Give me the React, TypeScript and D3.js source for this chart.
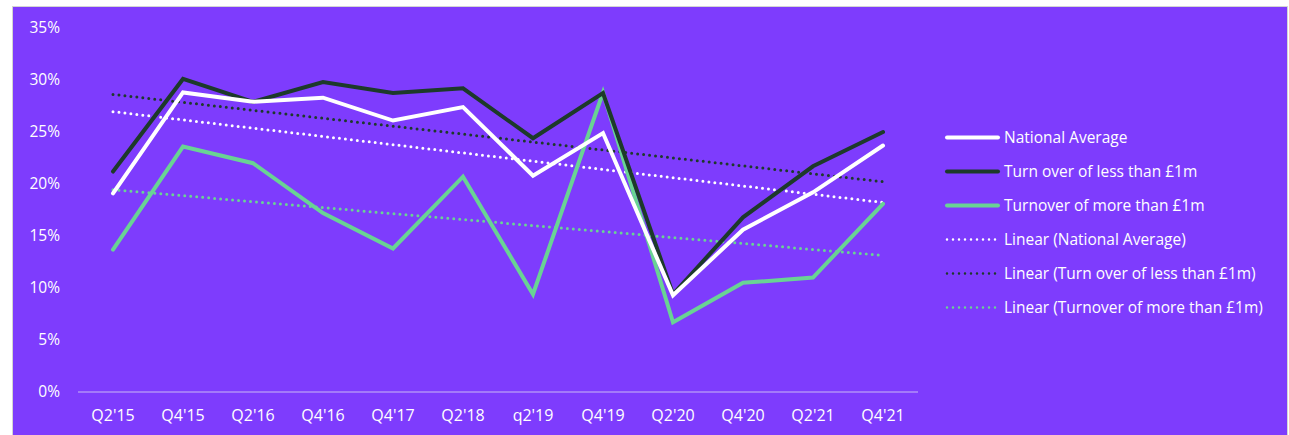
import React from "react";
import * as d3 from "d3";

const categories = ["Q2'15", "Q4'15", "Q2'16", "Q4'16", "Q4'17", "Q2'18", "q2'19", "Q4'19", "Q2'20", "Q4'20", "Q2'21", "Q4'21"];
const nationalAverage = [0.191, 0.288, 0.279, 0.283, 0.261, 0.274, 0.208, 0.249, 0.093, 0.156, 0.192, 0.237];
const lessThan1m = [0.212, 0.301, 0.279, 0.298, 0.2875, 0.292, 0.244, 0.2875, 0.094, 0.168, 0.217, 0.25];
const moreThan1m = [0.137, 0.236, 0.22, 0.172, 0.138, 0.207, 0.094, 0.288, 0.067, 0.105, 0.11, 0.181];
const yTicks = [0, 0.05, 0.1, 0.15, 0.2, 0.25, 0.3, 0.35];

const seriesNames = ["National Average", "Turn over of less than £1m", "Turnover of more than £1m"];
const seriesColors = ["#FFFFFF", "#1D3A2A", "#69D394"];

function linearFit(values: number[]): [number, number] {
  const n = values.length;
  const xs = d3.range(n);
  const mx = d3.mean(xs) as number;
  const my = d3.mean(values) as number;
  let num = 0, den = 0;
  xs.forEach((x, i) => { num += (x - mx) * (values[i] - my); den += (x - mx) * (x - mx); });
  const slope = num / den;
  return [my - slope * mx, slope];
}

export default function App() {
  const W = 1289, H = 435;
  const font = "'Open Sans', sans-serif";
  const x = d3.scaleBand<string>().domain(categories).range([78, 918]);
  const y = d3.scaleLinear().domain([0, 0.35]).range([392, 28]);
  const cx = (c: string) => (x(c) as number) + x.bandwidth() / 2;
  const line = d3.line<number>().x((_, i) => cx(categories[i])).y((d) => y(d));
  const allSeries = [nationalAverage, lessThan1m, moreThan1m];
  const trends = allSeries.map((s) => {
    const [a, b] = linearFit(s);
    return categories.map((_, i) => a + b * i);
  });
  const legendItems = [
    ...seriesNames.map((n, i) => ({ name: n, color: seriesColors[i], dotted: false })),
    ...seriesNames.map((n, i) => ({ name: `Linear (${n})`, color: seriesColors[i], dotted: true })),
  ];
  return (
    <svg width={W} height={H} style={{ position: "absolute", left: 0, top: 0 }} fontFamily={font}>
      <rect x={0} y={0} width={W} height={H} fill="#FFFFFF" />
      <rect x={12.5} y={6.5} width={1275} height={440} fill="#7E3CFD" stroke="#D4D4D4" strokeWidth={1} />
      {yTicks.map((t) => (
        <text key={t} x={60} y={y(t)} dy="0.35em" textAnchor="end" fill="#FFFFFF" fontSize={15.5}>
          {d3.format(".0%")(t)}
        </text>
      ))}
      <line x1={78} x2={918} y1={y(0)} y2={y(0)} stroke="#C9B8F5" strokeWidth={1} />
      {categories.map((c) => (
        <text key={c} x={cx(c)} y={415} dy="0.35em" textAnchor="middle" fill="#FFFFFF" fontSize={16}>
          {c}
        </text>
      ))}
      {trends.map((t, i) => (
        <path key={"t" + i} d={line(t) as string} fill="none" stroke={seriesColors[i]} strokeWidth={3}
          strokeDasharray="0 6" strokeLinecap="round" />
      ))}
      {[moreThan1m, lessThan1m, nationalAverage].map((s, k) => {
        const i = 2 - k;
        return (
          <path key={"s" + i} d={line(s) as string} fill="none" stroke={seriesColors[i]} strokeWidth={4}
            strokeLinejoin="miter" strokeLinecap="round" />
        );
      })}
      {legendItems.map((it, i) => {
        const ly = 137.5 + i * 34;
        return (
          <g key={it.name}>
            <line x1={947} x2={998} y1={ly} y2={ly} stroke={it.color} strokeWidth={it.dotted ? 2.5 : 4}
              strokeLinecap="round" strokeDasharray={it.dotted ? "0 6" : undefined} />
            <text x={1004} y={ly} dy="0.35em" fill="#FFFFFF" fontSize={15.5}>{it.name}</text>
          </g>
        );
      })}
    </svg>
  );
}
